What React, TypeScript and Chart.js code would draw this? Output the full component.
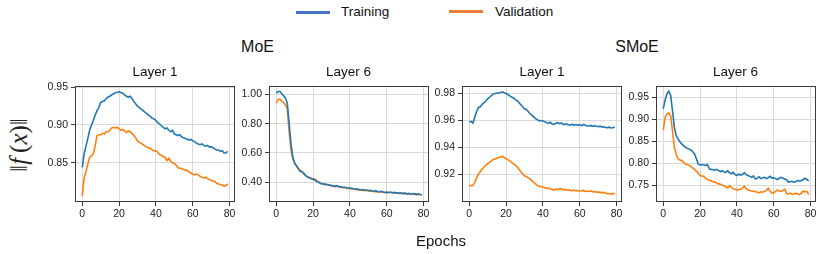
import React, { useEffect, useRef } from "react";
import { Chart, registerables } from "chart.js";

Chart.register(...registerables);

const epochs = [...Array(80).keys()];
const xTicks = [0, 20, 40, 60, 80];

const moeL1Train = [0.844, 0.862, 0.872, 0.882, 0.893, 0.900, 0.906, 0.913, 0.919, 0.923, 0.930, 0.931, 0.932, 0.935, 0.937, 0.938, 0.940, 0.941, 0.943, 0.943, 0.944, 0.943, 0.942, 0.940, 0.938, 0.937, 0.938, 0.935, 0.931, 0.928, 0.925, 0.923, 0.921, 0.919, 0.917, 0.915, 0.913, 0.911, 0.909, 0.908, 0.906, 0.903, 0.901, 0.899, 0.897, 0.895, 0.896, 0.893, 0.891, 0.893, 0.888, 0.887, 0.886, 0.887, 0.884, 0.883, 0.882, 0.881, 0.880, 0.881, 0.879, 0.878, 0.876, 0.875, 0.874, 0.875, 0.873, 0.872, 0.873, 0.871, 0.871, 0.870, 0.868, 0.867, 0.867, 0.865, 0.866, 0.863, 0.863, 0.865];
const moeL1Val = [0.806, 0.830, 0.838, 0.848, 0.857, 0.859, 0.862, 0.872, 0.886, 0.887, 0.887, 0.889, 0.888, 0.891, 0.891, 0.893, 0.896, 0.897, 0.896, 0.897, 0.895, 0.893, 0.894, 0.892, 0.890, 0.892, 0.891, 0.889, 0.886, 0.883, 0.879, 0.877, 0.876, 0.874, 0.872, 0.871, 0.870, 0.869, 0.867, 0.866, 0.866, 0.864, 0.861, 0.860, 0.858, 0.857, 0.853, 0.856, 0.852, 0.850, 0.849, 0.847, 0.843, 0.843, 0.842, 0.841, 0.840, 0.840, 0.838, 0.836, 0.835, 0.834, 0.835, 0.834, 0.832, 0.831, 0.830, 0.831, 0.829, 0.828, 0.827, 0.826, 0.825, 0.823, 0.822, 0.821, 0.821, 0.819, 0.820, 0.822];

const moeL6Train = [1.01, 1.02, 1.02, 1.005, 0.99, 0.975, 0.94, 0.80, 0.66, 0.57, 0.53, 0.51, 0.49, 0.475, 0.47, 0.46, 0.445, 0.435, 0.43, 0.425, 0.42, 0.415, 0.405, 0.40, 0.39, 0.39, 0.385, 0.386, 0.383, 0.38, 0.378, 0.375, 0.373, 0.376, 0.37, 0.368, 0.366, 0.365, 0.362, 0.36, 0.36, 0.358, 0.355, 0.352, 0.355, 0.35, 0.348, 0.35, 0.345, 0.347, 0.343, 0.345, 0.34, 0.338, 0.342, 0.336, 0.335, 0.338, 0.333, 0.33, 0.332, 0.33, 0.333, 0.328, 0.33, 0.327, 0.328, 0.325, 0.327, 0.322, 0.325, 0.32, 0.323, 0.318, 0.322, 0.32, 0.317, 0.32, 0.316, 0.315];
const moeL6Val = [0.94, 0.965, 0.968, 0.955, 0.945, 0.93, 0.90, 0.74, 0.62, 0.56, 0.53, 0.515, 0.495, 0.48, 0.475, 0.455, 0.445, 0.437, 0.432, 0.425, 0.418, 0.422, 0.41, 0.402, 0.395, 0.39, 0.388, 0.385, 0.382, 0.38, 0.375, 0.373, 0.37, 0.374, 0.368, 0.366, 0.362, 0.364, 0.36, 0.358, 0.356, 0.355, 0.352, 0.35, 0.348, 0.345, 0.347, 0.344, 0.342, 0.345, 0.34, 0.338, 0.342, 0.335, 0.337, 0.333, 0.335, 0.332, 0.334, 0.33, 0.33, 0.328, 0.331, 0.326, 0.328, 0.325, 0.327, 0.322, 0.325, 0.32, 0.326, 0.318, 0.322, 0.316, 0.32, 0.317, 0.315, 0.318, 0.314, 0.313];

const smoeL1Train = [0.9588, 0.9592, 0.9580, 0.9625, 0.9665, 0.9695, 0.9700, 0.9718, 0.9730, 0.9742, 0.9758, 0.9770, 0.9782, 0.9795, 0.9798, 0.9800, 0.9802, 0.9805, 0.9810, 0.9803, 0.9797, 0.9790, 0.9780, 0.9772, 0.9765, 0.9752, 0.9745, 0.9730, 0.9715, 0.9700, 0.9685, 0.9680, 0.9665, 0.9650, 0.9638, 0.9625, 0.9612, 0.9605, 0.9596, 0.9598, 0.9595, 0.9590, 0.9582, 0.9578, 0.9585, 0.9573, 0.9570, 0.9578, 0.9582, 0.9575, 0.9580, 0.9568, 0.9572, 0.9570, 0.9565, 0.9566, 0.9571, 0.9562, 0.9568, 0.9564, 0.9566, 0.9560, 0.9569, 0.9563, 0.9558, 0.9558, 0.9562, 0.9555, 0.9560, 0.9556, 0.9553, 0.9557, 0.9550, 0.9552, 0.9547, 0.9546, 0.9549, 0.9543, 0.9545, 0.9551];
const smoeL1Val = [0.9112, 0.9120, 0.9118, 0.9143, 0.9175, 0.9205, 0.9222, 0.9240, 0.9255, 0.9268, 0.9280, 0.9290, 0.9300, 0.9310, 0.9315, 0.9320, 0.9325, 0.9328, 0.9333, 0.9325, 0.9316, 0.9310, 0.9300, 0.9290, 0.9280, 0.9268, 0.9255, 0.9238, 0.9220, 0.9205, 0.9190, 0.9185, 0.9175, 0.9168, 0.9155, 0.9142, 0.9130, 0.9120, 0.9112, 0.9110, 0.9107, 0.9104, 0.9098, 0.9100, 0.9093, 0.9090, 0.9085, 0.9092, 0.9088, 0.9094, 0.9095, 0.9087, 0.9090, 0.9084, 0.9086, 0.9083, 0.9080, 0.9085, 0.9079, 0.9082, 0.9078, 0.9080, 0.9083, 0.9077, 0.9075, 0.9076, 0.9079, 0.9072, 0.9074, 0.9070, 0.9070, 0.9068, 0.9066, 0.9068, 0.9063, 0.9058, 0.9060, 0.9055, 0.9057, 0.9063];

const smoeL6Train = [0.9235, 0.944, 0.958, 0.9636, 0.954, 0.920, 0.882, 0.863, 0.855, 0.849, 0.844, 0.840, 0.836, 0.834, 0.832, 0.830, 0.826, 0.821, 0.810, 0.798, 0.796, 0.797, 0.796, 0.795, 0.797, 0.787, 0.786, 0.785, 0.784, 0.786, 0.783, 0.781, 0.783, 0.780, 0.779, 0.783, 0.778, 0.776, 0.779, 0.774, 0.772, 0.775, 0.773, 0.775, 0.778, 0.774, 0.772, 0.770, 0.768, 0.771, 0.764, 0.766, 0.769, 0.765, 0.767, 0.768, 0.765, 0.767, 0.770, 0.766, 0.767, 0.765, 0.763, 0.766, 0.768, 0.766, 0.764, 0.762, 0.757, 0.758, 0.759, 0.757, 0.758, 0.761, 0.759, 0.7606, 0.763, 0.766, 0.763, 0.760];
const smoeL6Val = [0.876, 0.904, 0.912, 0.914, 0.908, 0.874, 0.836, 0.821, 0.810, 0.807, 0.806, 0.802, 0.798, 0.797, 0.795, 0.792, 0.789, 0.786, 0.782, 0.777, 0.772, 0.771, 0.770, 0.766, 0.763, 0.761, 0.760, 0.758, 0.757, 0.755, 0.753, 0.752, 0.750, 0.749, 0.746, 0.744, 0.749, 0.745, 0.742, 0.741, 0.7394, 0.740, 0.741, 0.743, 0.748, 0.742, 0.739, 0.738, 0.737, 0.736, 0.7356, 0.734, 0.7326, 0.735, 0.734, 0.736, 0.739, 0.743, 0.737, 0.732, 0.733, 0.736, 0.739, 0.737, 0.736, 0.738, 0.741, 0.731, 0.730, 0.732, 0.729, 0.730, 0.732, 0.730, 0.7288, 0.732, 0.737, 0.735, 0.736, 0.7288];

const moeL1Ticks = [0.85, 0.9, 0.95];
const moeL6Ticks = [0.4, 0.6, 0.8, 1.0];
const smoeL1Ticks = [0.92, 0.94, 0.96, 0.98];
const smoeL6Ticks = [0.75, 0.8, 0.85, 0.9, 0.95];

const TRAIN_COLOR = "#1f77b4";
const VAL_COLOR = "#ff7f0e";
const FONT = "'Liberation Sans', Arial, sans-serif";

const Y_AXIS_W = 45;
const X_AXIS_H = 25;
const PAD_T = 12;
const PAD_R = 12;

type PanelProps = {
  left: number;
  top: number;
  width: number;
  height: number;
  yMin: number;
  yMax: number;
  yTicks: number[];
  train: number[];
  val: number[];
  title: string;
};

function Panel(p: PanelProps) {
  const ref = useRef<HTMLCanvasElement>(null);
  const cw = p.width + Y_AXIS_W + PAD_R;
  const ch = p.height + PAD_T + X_AXIS_H;

  useEffect(() => {
    if (!ref.current) return;
    const boxPlugin = {
      id: "boxSpines",
      afterDraw(chart: any) {
        const { ctx, chartArea: a } = chart;
        ctx.save();
        ctx.strokeStyle = "#3a3a3a";
        ctx.lineWidth = 1;
        ctx.strokeRect(
          Math.round(a.left) + 0.5,
          Math.round(a.top) + 0.5,
          Math.round(a.right - a.left) - 1,
          Math.round(a.bottom - a.top) - 1
        );
        ctx.restore();
      },
    };
    const tickFont = { family: FONT, size: 10.5 };
    const chart = new Chart(ref.current, {
      type: "line",
      data: {
        datasets: [
          {
            label: "Training",
            data: p.train.map((y, i) => ({ x: epochs[i], y })),
            borderColor: TRAIN_COLOR,
            borderWidth: 1.6,
            pointRadius: 0,
            fill: false,
            tension: 0,
          },
          {
            label: "Validation",
            data: p.val.map((y, i) => ({ x: epochs[i], y })),
            borderColor: VAL_COLOR,
            borderWidth: 1.6,
            pointRadius: 0,
            fill: false,
            tension: 0,
          },
        ],
      },
      options: {
        animation: false,
        responsive: false,
        devicePixelRatio: 1,
        events: [],
        layout: { padding: { top: PAD_T, right: PAD_R, left: 0, bottom: 0 } },
        plugins: {
          legend: { display: false },
          tooltip: { enabled: false },
          title: { display: false },
        },
        scales: {
          x: {
            type: "linear",
            min: -3.95,
            max: 82.95,
            afterBuildTicks: (s: any) => {
              s.ticks = xTicks.map((v) => ({ value: v }));
            },
            afterFit: (s: any) => {
              s.height = X_AXIS_H;
            },
            ticks: {
              font: tickFont,
              color: "#222",
              padding: 2,
              maxRotation: 0,
              autoSkip: false,
              callback: (v: any) => String(v),
            },
            grid: { color: "#dadada", lineWidth: 1, tickColor: "#3a3a3a", tickLength: 4 },
            border: { display: false },
          },
          y: {
            type: "linear",
            min: p.yMin,
            max: p.yMax,
            afterBuildTicks: (s: any) => {
              s.ticks = p.yTicks.map((v) => ({ value: v }));
            },
            afterFit: (s: any) => {
              s.width = Y_AXIS_W;
            },
            ticks: {
              font: tickFont,
              color: "#222",
              padding: 3,
              autoSkip: false,
              callback: (v: any) => Number(v).toFixed(2),
            },
            grid: { color: "#dadada", lineWidth: 1, tickColor: "#3a3a3a", tickLength: 4 },
            border: { display: false },
          },
        },
      } as any,
      plugins: [boxPlugin],
    });
    return () => chart.destroy();
  }, []);

  return (
    <>
      <canvas
        ref={ref}
        width={cw}
        height={ch}
        style={{
          position: "absolute",
          left: p.left - Y_AXIS_W,
          top: p.top - PAD_T,
          width: cw,
          height: ch,
        }}
      />
      <div
        style={{
          position: "absolute",
          left: p.left + p.width / 2,
          top: p.top - 22,
          transform: "translateX(-50%)",
          fontFamily: FONT,
          fontSize: 13.5,
          lineHeight: "16px",
          color: "#111",
          whiteSpace: "nowrap",
        }}
      >
        {p.title}
      </div>
    </>
  );
}

const BOX_TOP = 85.5;
const BOX_H = 116;
const BOX_W = 160;

export default function App() {
  return (
    <div
      style={{
        position: "absolute",
        left: 0,
        top: 0,
        width: 830,
        height: 254,
        background: "#fff",
        overflow: "hidden",
      }}
    >
      {/* legend */}
      <div style={{ position: "absolute", left: 296, top: 11, width: 34, height: 3, background: "#4472C4" }} />
      <div style={{ position: "absolute", left: 341, top: 4, fontFamily: FONT, fontSize: 13.5, lineHeight: "16px", color: "#111" }}>
        Training
      </div>
      <div style={{ position: "absolute", left: 449, top: 10, width: 34, height: 3, background: "#ED7D31" }} />
      <div style={{ position: "absolute", left: 495, top: 4, fontFamily: FONT, fontSize: 13.5, lineHeight: "16px", color: "#111" }}>
        Validation
      </div>

      {/* group titles */}
      <div style={{ position: "absolute", left: 257.5, top: 38, transform: "translateX(-50%)", fontFamily: FONT, fontSize: 16, lineHeight: "18px", color: "#111" }}>
        MoE
      </div>
      <div style={{ position: "absolute", left: 637, top: 38, transform: "translateX(-50%)", fontFamily: FONT, fontSize: 16, lineHeight: "18px", color: "#111" }}>
        SMoE
      </div>

      {/* y label */}
      <div
        style={{
          position: "absolute",
          left: 19,
          top: 145,
          transform: "translate(-50%, -50%) rotate(-90deg)",
          fontFamily: "'Liberation Serif', 'DejaVu Serif', serif",
          fontSize: 25,
          lineHeight: "28px",
          color: "#222",
          whiteSpace: "nowrap",
        }}
      >
        ‖<i>f</i>&thinsp;(<i>x</i>)‖
      </div>

      <Panel left={75} top={BOX_TOP} width={BOX_W} height={BOX_H} yMin={0.7981} yMax={0.9516} yTicks={moeL1Ticks} train={moeL1Train} val={moeL1Val} title="Layer 1" />
      <Panel left={268.5} top={BOX_TOP} width={BOX_W} height={BOX_H} yMin={0.2646} yMax={1.058} yTicks={moeL6Ticks} train={moeL6Train} val={moeL6Val} title="Layer 6" />
      <Panel left={462} top={BOX_TOP} width={BOX_W} height={BOX_H} yMin={0.8997} yMax={0.9853} yTicks={smoeL1Ticks} train={smoeL1Train} val={smoeL1Val} title="Layer 1" />
      <Panel left={655.5} top={BOX_TOP} width={BOX_W} height={BOX_H} yMin={0.7118} yMax={0.9755} yTicks={smoeL6Ticks} train={smoeL6Train} val={smoeL6Val} title="Layer 6" />

      {/* x label */}
      <div style={{ position: "absolute", left: 441, top: 232, transform: "translateX(-50%)", fontFamily: FONT, fontSize: 15, lineHeight: "18px", color: "#111" }}>
        Epochs
      </div>
    </div>
  );
}
